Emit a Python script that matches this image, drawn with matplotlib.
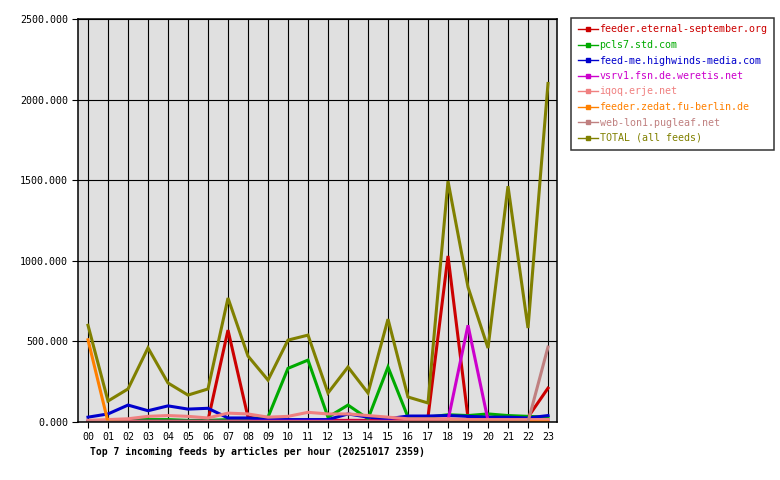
import matplotlib
matplotlib.use("Agg")
import matplotlib.pyplot as plt
from matplotlib.lines import Line2D

hours = ["%02d" % h for h in range(24)]

feeds = [
    "feeder.eternal-september.org",
    "pcls7.std.com",
    "feed-me.highwinds-media.com",
    "vsrv1.fsn.de.weretis.net",
    "iqoq.erje.net",
    "feeder.zedat.fu-berlin.de",
    "web-lon1.pugleaf.net",
    "TOTAL (all feeds)",
]
colors = ["#cc0000", "#00aa00", "#0000cc", "#cc00cc",
          "#f08080", "#ff8000", "#c08080", "#808000"]

eternal = [5, 5, 5, 5, 5, 5, 10, 570, 30, 10, 10, 10, 10, 10, 10, 10,
           20, 30, 1030, 25, 10, 10, 30, 210]
pcls7 = [0, 0, 15, 15, 15, 10, 10, 15, 20, 30, 333, 384, 30, 105, 20, 341,
         30, 30, 45, 40, 50, 40, 35, 30]
highwinds = [30, 50, 105, 70, 100, 80, 85, 25, 25, 15, 15, 15, 15, 50, 30, 20,
             37, 37, 40, 35, 30, 30, 25, 40]
weretis = [5, 5, 5, 5, 5, 5, 5, 5, 5, 5, 5, 5, 5, 5, 5, 5,
           5, 5, 10, 600, 10, 10, 10, 10]
iqoq = [10, 15, 20, 35, 40, 35, 25, 55, 50, 30, 35, 60, 50, 50, 40, 30,
        20, 20, 20, 15, 15, 15, 15, 15]
zedat = [510, 0, 0, 0, 0, 0, 0, 0, 0, 0, 0, 0, 0, 0, 0, 0,
         0, 0, 0, 0, 0, 0, 0, 0]
pugleaf = [0, 0, 0, 0, 0, 0, 0, 0, 0, 0, 0, 0, 0, 0, 0, 0,
           0, 0, 0, 0, 0, 0, 0, 465]
total = [600, 130, 205, 460, 242, 167, 205, 769, 409, 260, 508, 539, 180, 341,
         180, 638, 155, 118, 1494, 837, 459, 1463, 583, 2100]

series = [eternal, pcls7, highwinds, weretis, iqoq, zedat, pugleaf, total]

mono = "DejaVu Sans Mono"

fig = plt.figure(figsize=(7.8, 4.8), dpi=100)
ax = fig.add_axes([78 / 780, 58 / 480, 479 / 780, 403 / 480])
ax.set_facecolor("#e0e0e0")

x = list(range(24))
for vals, col in zip(series, colors):
    ax.plot(x, vals, color=col, linewidth=2.2, solid_joinstyle="miter")

ax.set_xlim(-0.5, 23.45)
ax.set_ylim(0, 2500)
ax.set_xticks(x)
ax.set_xticklabels(hours, fontfamily=mono, fontsize=7.2)
yt = [0, 500, 1000, 1500, 2000, 2500]
ax.set_yticks(yt)
ax.set_yticklabels(["%.3f" % v for v in yt], fontfamily=mono, fontsize=7.2)
ax.grid(True, color="black", linewidth=0.8)
ax.set_axisbelow(True)
ax.tick_params(length=4, width=0.8, color="black", pad=3)
for s in ax.spines.values():
    s.set_linewidth(1.1)

# legend: short line with a tiny square marker, labels in series colour
handles = [Line2D([0], [0], color=c, linewidth=1.0, marker="s", markersize=2.2)
           for c in colors]
leg = fig.legend(handles, feeds, loc="upper left",
                 bbox_to_anchor=(571 / 780, 1 - 18 / 480),
                 prop={"family": mono, "size": 7.2}, frameon=True,
                 fancybox=False, handlelength=2.0, handletextpad=0.2,
                 labelspacing=0.55, borderpad=0.65, borderaxespad=0)
leg.get_frame().set_edgecolor("black")
leg.get_frame().set_linewidth(1.1)
for txt, c in zip(leg.get_texts(), colors):
    txt.set_color(c)

fig.text(90 / 780, 1 - 452 / 480,
         "Top 7 incoming feeds by articles per hour (20251017 2359)",
         fontfamily=mono, fontweight="bold", fontsize=7, va="center")

fig.savefig("out.png", dpi=100)
